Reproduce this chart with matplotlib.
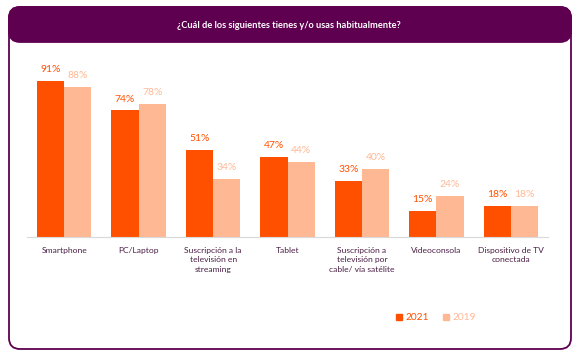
import matplotlib.pyplot as plt
import matplotlib.patches as mpatches
import numpy as np

categories = ['Smartphone', 'PC/Laptop', 'Suscripción a la\ntelevisión en\nstreaming', 'Tablet',
              'Suscripción a\ntelevisión por\ncable/ vía satélite', 'Videoconsola', 'Dispositivo de TV\nconectada']
v2021 = [91, 74, 51, 47, 33, 15, 18]
v2019 = [88, 78, 34, 44, 40, 24, 18]

c2021 = '#FF5000'
c2019 = '#FFB894'
purple = '#5E004F'
plt.rcParams['font.family'] = ['Lato', 'DejaVu Sans']

W, H = 577, 360
fig = plt.figure(figsize=(W / 100, H / 100), dpi=100)

# frame and title band, drawn in pixel coords
bg = fig.add_axes([0, 0, 1, 1])
bg.set_xlim(0, W)
bg.set_ylim(H, 0)
bg.axis('off')
bg.add_patch(mpatches.FancyBboxPatch((9 + 11, 7 + 11), 562 - 22, 342 - 22,
                                     boxstyle='round,pad=11', fc='white', ec=purple, lw=1.3))
bg.add_patch(mpatches.FancyBboxPatch((9 + 11, 7 + 11), 562 - 22, 35 - 22,
                                     boxstyle='round,pad=11', fc=purple, ec=purple, lw=1.3))
bg.text(W / 2, 25, '¿Cuál de los siguientes tienes y/o usas habitualmente?', color='white',
        fontsize=6.7, fontweight='bold', ha='center', va='center')

ax = fig.add_axes([27 / W, (H - 237) / H, 521 / W, 171 / H])
ax.patch.set_alpha(0)
x = np.arange(len(categories))
w = 0.365
b1 = ax.bar(x - w / 2, v2021, w, color=c2021)
b2 = ax.bar(x + w / 2, v2019, w, color=c2019)
for bars, vals, col in [(b1, v2021, c2021), (b2, v2019, c2019)]:
    for r, v in zip(bars, vals):
        ax.annotate('%d%%' % v, (r.get_x() + r.get_width() / 2, v), xytext=(0, 5),
                    textcoords='offset points', ha='center', va='bottom', fontsize=7.5, color=col)

ax.set_xlim(-0.5, len(categories) - 0.5)
ax.set_ylim(0, 100)
ax.set_yticks([])
ax.set_xticks(x)
ax.set_xticklabels(categories, fontsize=6.1, color='#4A1F45', linespacing=1.4)
ax.tick_params(axis='x', length=0, pad=7)
for s in ['top', 'right', 'left']:
    ax.spines[s].set_visible(False)
ax.spines['bottom'].set_color('#D9D9D9')

handles = [mpatches.Patch(color=c2021, label='2021'), mpatches.Patch(color=c2019, label='2019')]
leg = fig.legend(handles=handles, loc='center', bbox_to_anchor=(436 / W, 1 - 318 / H), ncol=2,
                 frameon=False, fontsize=7.3, handlelength=0.65, handleheight=0.65,
                 handletextpad=0.35, columnspacing=1.3)
for t, c in zip(leg.get_texts(), [c2021, c2019]):
    t.set_color(c)

fig.savefig('out.png', dpi=100)
